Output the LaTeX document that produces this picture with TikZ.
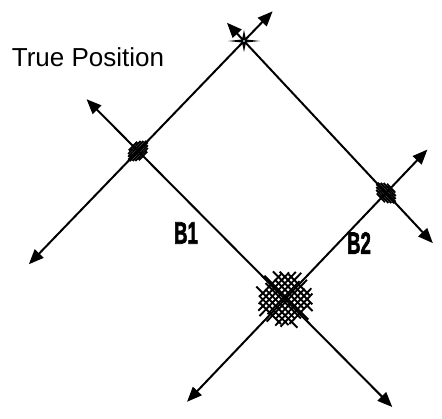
\documentclass[tikz,border=0pt]{standalone}
\usepackage{fontspec}
\setmainfont{Liberation Sans}
\newfontfamily\heavyfont{Liberation Sans}[UprightFeatures={FakeBold=2.5},BoldFeatures={FakeBold=2.5}]
\usetikzlibrary{arrows.meta,calc}

\begin{document}
\begin{tikzpicture}[x=1pt,y=-1pt,
    ray/.style={<->,>={Triangle[length=15pt,width=12pt]},line width=2pt},
    hatch/.style={line width=1.9pt},
    lbl/.style={font=\fontsize{31}{36}\heavyfont\bfseries,inner sep=0pt},
    txt/.style={font=\fontsize{26}{30}\selectfont,inner sep=0pt}
]
\useasboundingbox (0,0) rectangle (442,419);
\coordinate (T) at (244,41);
\coordinate (L) at (138,151);
\coordinate (R) at (386,193);
\coordinate (X) at (285,299);
\coordinate (aSW) at ($(T)!2.03!(L)$);
\coordinate (aNE) at ($(L)!1.27!(T)$);
\coordinate (aNW) at ($(X)!1.35!(L)$);
\coordinate (aSE) at ($(L)!1.73!(X)$);
\coordinate (aN) at ($(R)!1.12!(T)$);
\coordinate (aE) at ($(T)!1.33!(R)$);
\coordinate (aS) at ($(R)!1.97!(X)$);
\coordinate (aR) at ($(X)!1.41!(R)$);

\draw[ray] (aSW) -- (aNE);
\draw[ray] (aN) -- (aE);
\draw[ray] (aNW) -- (aSE);
\draw[ray] (aS) -- (aR);

\begin{scope}[shift={(L)},rotate=46]
  \foreach \o/\l in {-7/12,-5/18,-3/22,-1/26,1/26,3/22,5/18,7/12}
    \draw[hatch] (-\l/2,\o) -- (\l/2,\o);
\end{scope}
\begin{scope}[shift={(R)},rotate=-47]
  \foreach \o/\l in {-7/12,-5/18,-3/22,-1/26,1/26,3/22,5/18,7/12}
    \draw[hatch] (-\l/2,\o) -- (\l/2,\o);
\end{scope}
\begin{scope}[shift={(X)},rotate=-45]
  \foreach \o/\l in {-20/30,-15.5/46,-11/56,-6.5/42,-2/62,2.5/50,7/42,11.5/58,16/42,20.5/30}
    \draw[hatch] (-\l/2,\o) -- (\l/2,\o);
\end{scope}
\begin{scope}[shift={(X)},rotate=46]
  \foreach \o/\l in {-20/30,-15.5/44,-11/54,-6.5/60,-2/46,2.5/58,7/42,11.5/52,16/46,20.5/30}
    \draw[hatch] (-\l/2,\o) -- (\l/2,\o);
\end{scope}

\begin{scope}[shift={(T)}]
  \fill (-16,0) -- (-2,-1.5) -- (0,-11) -- (2,-1.5) -- (16,0) -- (2,1.5) -- (0,11) -- (-2,1.5) -- cycle;
  \fill[cyan!40] (0,0) circle (1.2);
\end{scope}

\node[txt] (tp) at (88,57) {True Position};
\node[lbl] (b1) at (186,233) {\scalebox{0.6}[1]{B1}};
\node[lbl] (b2) at (359,243) {\scalebox{0.6}[1]{B2}};
\end{tikzpicture}
\end{document}
